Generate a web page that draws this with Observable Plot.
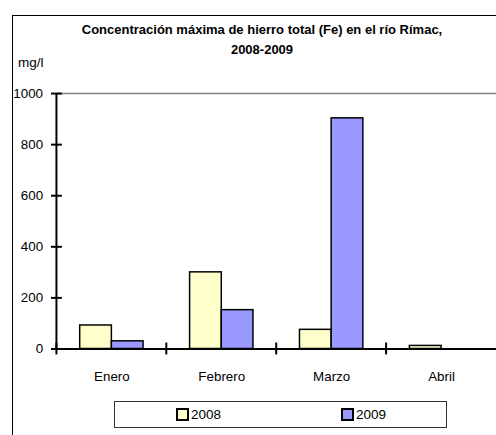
<!DOCTYPE html>
<html><head><meta charset="utf-8">
<script src="https://cdn.jsdelivr.net/npm/d3@7"></script>
<script src="https://cdn.jsdelivr.net/npm/@observablehq/plot@0.6"></script>
<style>
body{margin:0;background:#fff;}
#wrap{position:relative;width:496px;height:435px;overflow:hidden;font-family:"Liberation Sans",Arial,sans-serif;color:#000;}
#border{position:absolute;left:12px;top:15px;width:600px;height:600px;border:1px solid #000;}
#title{position:absolute;left:12px;width:500px;top:20px;text-align:center;font-weight:bold;font-size:13px;line-height:20px;}
#unit{position:absolute;left:18px;top:55px;font-size:13.5px;}
#chart{position:absolute;left:0;top:0;}
#legend{position:absolute;left:114px;top:401px;width:331px;height:25px;border:1px solid #333;background:#fff;font-size:13.5px;}
.item{position:absolute;top:5px;line-height:16px;}
.sw{display:inline-block;width:9px;height:9px;border:2px solid #000;vertical-align:-2px;margin-right:2px;}
</style>
</head><body>
<div id="wrap">
  <div id="border"></div>
  <div id="title"></div>
  <div id="unit"></div>
  <div id="chart"></div>
  <div id="legend"></div>
</div>
<script>
const titleLines = ["Concentración máxima de hierro total (Fe) en el río Rímac,", "2008-2009"];
const unitLabel = "mg/l";
const months = ["Enero", "Febrero", "Marzo", "Abril"];
const years = ["2008", "2009"];
const values2008 = [92, 300, 75, 12];
const values2009 = [30, 152, 903, null];
const yTicks = [0, 200, 400, 600, 800, 1000];
const colors = {"2008": "#FFFFCC", "2009": "#9999FF"};

document.getElementById("title").innerHTML = titleLines.join("<br>");
document.getElementById("unit").textContent = unitLabel;

const d2008 = months.map((m, i) => ({month: m, value: values2008[i]}));
const d2009 = months.map((m, i) => ({month: m, value: values2009[i]})).filter(d => d.value != null);

const chart = Plot.plot({
  width: 501,
  height: 435,
  marginTop: 94,
  marginBottom: 83,
  marginLeft: 57,
  marginRight: 0,
  style: {fontFamily: '"Liberation Sans", Arial, sans-serif', fontSize: "13.5px", color: "#000", background: "transparent"},
  x: {domain: months, padding: 0, label: null},
  y: {domain: [0, 1000], label: null},
  marks: [
    Plot.ruleY([1000], {stroke: "#808080", strokeWidth: 1.5}),
    Plot.barY(d2008, {x: "month", y: "value", fill: colors["2008"], stroke: "#000", strokeWidth: 1.5, insetLeft: 23.5, insetRight: 55.5}),
    Plot.barY(d2009, {x: "month", y: "value", fill: colors["2009"], stroke: "#000", strokeWidth: 1.5, insetLeft: 55.5, insetRight: 23.5}),
    Plot.ruleY([0], {stroke: "#000", strokeWidth: 2}),
    // y axis line at the left edge of the first category band
    Plot.barY([months[0]], {x: d => d, y1: 0, y2: 1000, fill: "#000", insetLeft: -1, insetRight: 110}),
    // category boundary ticks crossing the x axis
    Plot.barY(months, {x: d => d, y1: 0, y2: 0, fill: "#000", insetLeft: -1, insetRight: 110, insetTop: -6, insetBottom: -6}),
    Plot.axisX({tickSize: 0, tickPadding: 23, label: null}),
    Plot.axisY({ticks: yTicks, tickSize: 11, dx: 5.5, strokeWidth: 2, tickFormat: () => "", label: null}),
    Plot.axisY({ticks: yTicks, tickSize: 0, tickPadding: 14, tickFormat: d => String(d), label: null})
  ]
});
document.getElementById("chart").appendChild(chart);

const legend = document.getElementById("legend");
const legendX = {"2008": 61, "2009": 226};
years.forEach(y => {
  const it = document.createElement("div");
  it.className = "item";
  it.style.left = legendX[y] + "px";
  it.innerHTML = `<span class="sw" style="background:${colors[y]}"></span>${y}`;
  legend.appendChild(it);
});
</script>
</body></html>
